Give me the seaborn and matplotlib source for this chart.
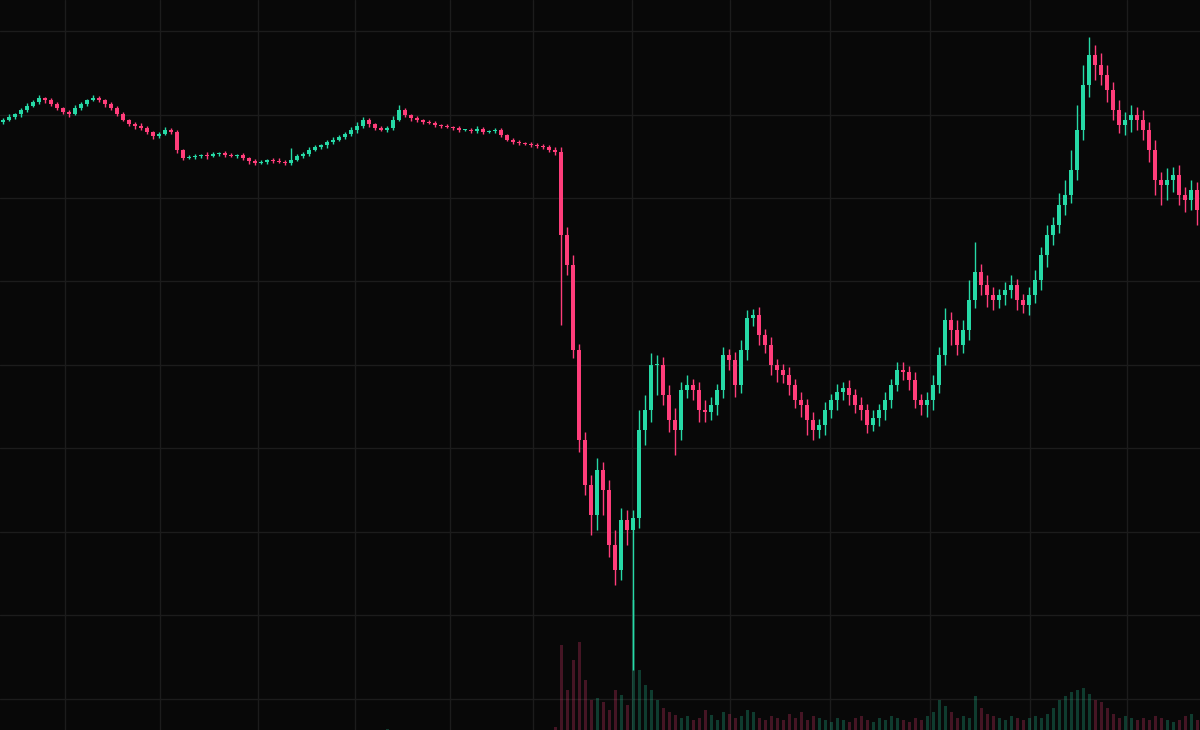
import matplotlib
matplotlib.use("Agg")
import matplotlib.pyplot as plt
import seaborn as sns
import numpy as np
import pandas as pd

close = [610,613,616,620,624,628,632,630,626,622,
         618,616,622,626,630,632,630,626,622,616,
         610,606,604,602,598,594,596,600,598,580,
         572,573,574,575,574,576,577,575,574,575,
         572,569,567,568,570,569,568,567,570,574,
         576,580,583,585,588,590,593,596,600,604,
         610,606,602,600,602,610,620,615,612,610,
         608,607,605,604,603,602,600,600,599,601,
         598,599,600,595,590,588,587,586,585,584,
         583,580,578,495,465,380,290,245,215,260,
         240,185,160,210,200,212,300,320,365,365,
         335,310,300,340,345,340,320,318,325,340,
         375,370,345,380,412,415,395,385,365,360,
         355,345,330,325,310,300,305,320,330,338,
         342,335,325,320,305,312,320,330,345,360,
         358,350,330,325,330,345,375,410,400,385,
         400,430,458,445,435,430,435,440,445,430,
         425,435,450,475,495,505,525,535,560,600,
         645,675,665,655,640,620,605,610,615,610,
         600,580,550,545,550,555,535,530,540,520]
first_open = 608
high_ext = [2,3,1,2,3,2,3,1,2,2, 1,2,3,2,1,3,2,1,2,2, 2,1,2,3,2,1,2,3,2,2,
            1,2,2,1,3,2,1,2,2,1, 2,1,2,2,1,2,3,2,12,2, 2,3,2,1,2,3,2,2,3,4,
            3,2,1,2,2,4,5,2,1,2, 1,2,2,1,2,1,2,1,2,3, 2,1,2,2,1,2,2,1,2,2,
            2,2,3,5,8,10,6,8,10,12, 8,10,15,12,10,8,20,15,12,10, 8,10,12,8,10,6,8,10,8,6,
            8,6,8,10,8,6,8,6,8,6, 6,8,6,8,6,8,6,8,6,8, 6,8,6,8,6,8,6,8,6,8,
            8,6,8,6,8,10,8,12,8,10, 10,20,30,8,10,8,6,8,10,6, 6,8,10,8,10,8,12,15,20,25,
            20,18,10,12,10,8,10,8,10,8, 10,8,10,8,12,8,10,8,10,8]
low_ext = [2,1,2,3,2,1,2,3,2,2, 2,3,1,2,2,1,2,3,2,2, 1,2,3,2,2,3,2,1,2,3,
           2,1,2,2,3,1,2,2,1,2, 2,3,2,1,2,2,1,2,2,1, 2,2,1,2,3,2,1,2,2,3,
           2,3,2,1,2,2,1,2,3,2, 2,1,2,2,1,2,2,1,2,2, 2,1,2,2,1,2,2,1,2,2,
           2,2,3,90,10,8,12,10,20,15, 25,12,15,10,15,140,10,15,12,30, 10,12,25,10,8,10,12,10,8,10,
           8,10,12,8,10,8,10,8,10,12, 8,10,8,12,15,10,8,10,8,10, 8,10,8,10,8,6,8,10,8,6,
           8,10,8,10,12,10,8,10,15,10, 8,10,8,10,12,10,8,10,8,10, 8,10,8,10,12,10,8,10,8,10,
           10,12,15,10,12,10,8,10,12,10, 10,12,15,20,15,12,10,12,10,15]
volume = [0,0,0,0,0,0,0,0,0,0, 0,0,0,0,0,0,0,0,0,0, 0,0,0,0,0,0,0,0,0,0,
          0,0,0,0,0,0,0,0,0,0, 0,0,0,0,0,0,0,0,0,0, 0,0,0,0,0,0,0,0,0,0,
          0,0,0,0,1,0,0,0,0,0, 0,0,0,0,0,0,0,0,0,0, 0,0,0,0,0,0,0,0,0,0,
          0,0,3,85,40,70,88,50,30,32, 28,20,40,35,25,130,60,45,40,30, 22,18,15,12,14,10,12,20,15,10,
          18,16,12,14,20,18,12,10,14,12, 10,16,12,18,10,14,12,10,8,12, 10,8,12,14,10,8,12,10,14,12,
          10,8,12,10,14,18,30,24,18,12, 14,12,34,22,16,14,12,10,14,12, 10,12,14,12,16,22,30,34,38,40,
          42,36,30,28,22,16,12,14,12,10, 12,10,14,12,10,8,10,14,16,10]

opens = [first_open] + close[:-1]
df = pd.DataFrame({"i": np.arange(len(close)), "open": opens, "close": close})
df["high"] = df[["open", "close"]].max(axis=1) + np.array(high_ext)
df["low"] = df[["open", "close"]].min(axis=1) - np.array(low_ext)
df["vol"] = volume
df["up"] = df["close"] >= df["open"]

sns.set_theme(style="dark")
up_c, dn_c = "#26d9a6", "#ff3d7a"
fig = plt.figure(figsize=(12, 7.3), dpi=100, facecolor="#080808")
ax = fig.add_axes([0, 0, 1, 1])
ax.set_facecolor("#080808")

xg = [65, 160, 258, 355, 450, 533, 632, 730, 830, 930, 1030, 1127]
yg = [699, 615, 532, 449, 365, 282, 198, 115, 31]
ax.set_xticks([x / 6 - 0.5 for x in xg])
ax.set_yticks(yg)
ax.grid(True, color="#1c1c1c", linewidth=1)
ax.tick_params(length=0, labelbottom=False, labelleft=False)
for s in ax.spines.values():
    s.set_visible(False)

colors = np.where(df["up"], up_c, dn_c)
ax.bar(df["i"], df["vol"], width=0.5, color=colors, alpha=0.25, linewidth=0, zorder=2)
ax.vlines(df["i"], df["low"], df["high"], colors=colors, linewidth=1, zorder=3)
bottom = df[["open", "close"]].min(axis=1)
height = (df["close"] - df["open"]).abs().clip(lower=1.5)
ax.bar(df["i"], height, bottom=bottom, width=0.6, color=colors, linewidth=0, zorder=4)

ax.set_xlim(-0.5, len(close) - 0.5)
ax.set_ylim(0, 730)
fig.savefig("out.png", dpi=100, facecolor="#080808")
